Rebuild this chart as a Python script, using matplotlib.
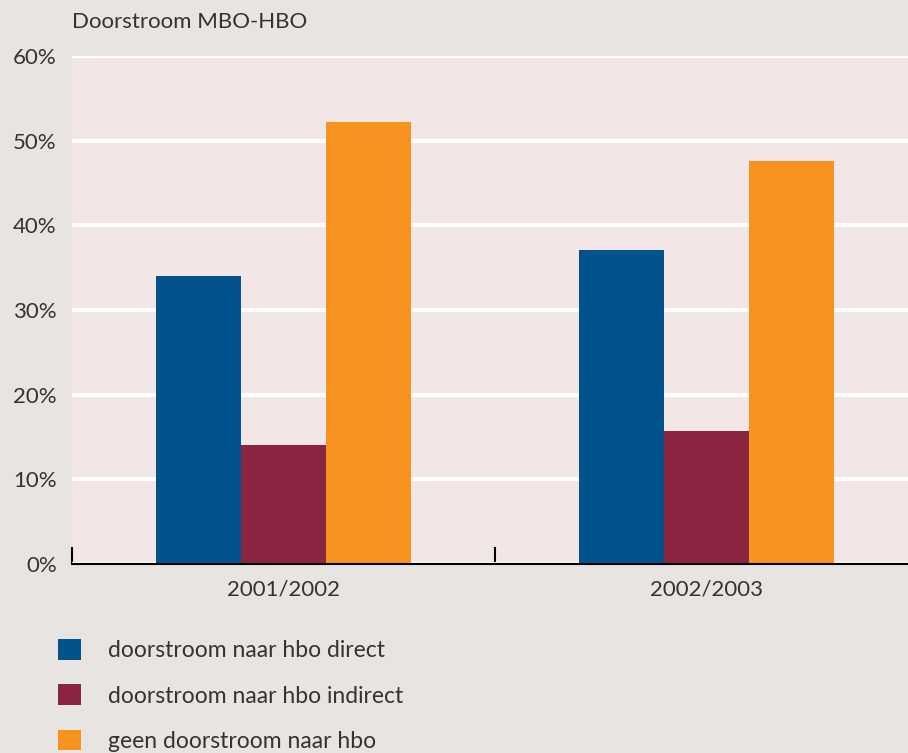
import numpy as np
import matplotlib.pyplot as plt
from matplotlib.patches import Patch

# data
years = ["2001/2002", "2002/2003"]
series = ["doorstroom naar hbo direct", "doorstroom naar hbo indirect", "geen doorstroom naar hbo"]
direct = [34.0, 37.1]
indirect = [14.1, 15.7]
geen = [52.2, 47.6]
colors = ["#02538b", "#8a2541", "#f7931e"]

plt.rcParams['font.family'] = ['Lato', 'DejaVu Sans']
fig = plt.figure(figsize=(9.08, 7.53), dpi=100, facecolor="#e8e4e1")
# axes runs a bit past the right edge of the figure, as in the original
ax = fig.add_axes([72/908, 1-564/753, 846/908, (564-56)/753])
ax.set_facecolor("#f2e6e6")

x = np.arange(len(years)) + 0.5
w = 0.201
for j, vals in enumerate([direct, indirect, geen]):
    ax.bar(x + (j-1)*w, vals, w, color=colors[j], zorder=3, label=series[j])

ax.set_xlim(0, 2)
ax.set_ylim(0, 60)
ax.set_yticks(np.arange(0, 61, 10))
ax.set_yticklabels([f"{v}%" for v in range(0, 61, 10)])
ax.yaxis.grid(True, color="white", lw=3, zorder=1)
ax.set_axisbelow(True)

ax.set_xticks(x)
ax.set_xticklabels(years)
ax.set_xticks([0, 1, 2], minor=True)
ax.tick_params(axis='x', which='major', length=0, pad=11, labelsize=16, colors="#333333")
ax.tick_params(axis='x', which='minor', direction='in', length=12, width=1.5, color="black")
ax.tick_params(axis='y', length=0, pad=11, labelsize=16, labelcolor="#333333")

for s in ["top", "right", "left"]:
    ax.spines[s].set_visible(False)
ax.spines["bottom"].set_linewidth(1.5)
ax.spines["bottom"].set_zorder(4)

fig.text(72/908, 1-22/753, "Doorstroom MBO-HBO", fontsize=16, color="#333333",
         ha="left", va="center")

handles = [Patch(facecolor=c, edgecolor="none") for c in colors]
fig.legend(handles, series, loc="upper left", bbox_to_anchor=(58/908, 1-639/753),
           frameon=False, fontsize=16.5, handlelength=1.0, handleheight=1.0,
           handletextpad=1.18, labelspacing=1.02, borderpad=0, borderaxespad=0,
           labelcolor="#333333")

fig.savefig("out.png", dpi=100, facecolor=fig.get_facecolor())
